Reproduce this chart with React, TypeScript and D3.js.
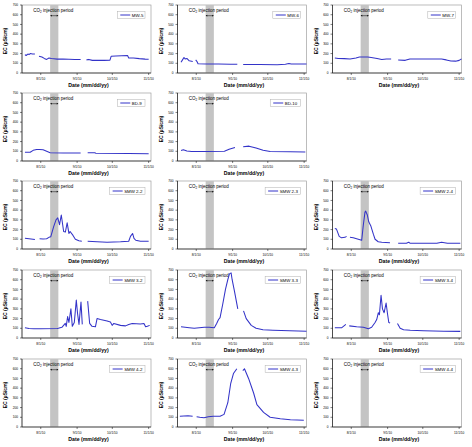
import React from "react";
import * as d3 from "d3";

type Pt = [string, number | null];

// EC (µS/cm) readings per well, dates as month/day (2010), null = gap in record
const mw5: Pt[] = [["7/18.5",190],["7/19.5",180],["7/21",195],["7/22",190],["7/23",200],["7/25",195],["7/27",195],["7/27.5",null],["7/30.5",172],["8/2",165],["8/4",150],["8/6",140],["8/8",155],["8/10",150],["8/12",147],["8/15",143],["8/20",143],["8/25",142],["8/30",140],["9/4",140],["9/6",null],["9/9",135],["9/11",140],["9/14",130],["9/19",130],["9/24",130],["9/29",132],["9/30",172],["10/4",175],["10/9",178],["10/14",180],["10/15",155],["10/19",155],["10/24",148],["10/29",143],["11/1",142]];
const mw6: Pt[] = [["7/19",110],["7/20",130],["7/21.5",160],["7/22.5",145],["7/24",150],["7/26",125],["7/29",118],["7/30",null],["7/31.5",135],["8/1.5",120],["8/2.5",95],["8/10",93],["8/20",93],["8/30",90],["9/5",90],["9/7",null],["9/10",88],["9/24",88],["10/9",85],["10/16",90],["10/19",98],["10/21",92],["11/3",92]];
const mw7: Pt[] = [["7/18",155],["7/21",150],["7/26",148],["7/31",145],["8/5",155],["8/8",165],["8/15",165],["8/18",160],["8/23",150],["8/27",140],["8/31",145],["9/4",145],["9/6",null],["9/10",133],["9/16",130],["9/20",145],["10/4",145],["10/17",145],["10/21",135],["10/25",123],["10/29",122],["11/1",130],["11/3",145]];
const bd9: Pt[] = [["7/18.5",90],["7/23",90],["7/25.5",110],["7/28.5",118],["7/31",118],["8/3",115],["8/6",100],["8/9",85],["8/20",83],["9/4",82],["9/6",null],["9/10",85],["9/16",85],["9/17",80],["10/15",78],["11/1",75]];
const bd10: Pt[] = [["7/19",108],["7/21",115],["7/24",103],["7/28",98],["8/10",97],["8/25",100],["8/29",120],["9/3",140],["9/6",null],["9/10",146],["9/15",153],["9/21",135],["9/27",110],["10/3",97],["10/20",95],["11/2",93]];
const smw22: Pt[] = [["7/18.5",110],["7/22",105],["7/27",98],["7/28",null],["7/31",105],["8/3",103],["8/6",105],["8/8",120],["8/9.5",125],["8/12",230],["8/14",300],["8/15.5",320],["8/17",250],["8/18.5",350],["8/20.5",180],["8/22",175],["8/23.5",270],["8/25",160],["8/26",180],["8/28.5",140],["8/30.5",100],["9/2.5",85],["9/5",80],["9/7",null],["9/10",80],["9/18",75],["9/26.5",70],["10/8",75],["10/15",80],["10/16.5",130],["10/18.3",160],["10/19.5",110],["10/21",90],["10/25",80],["11/1",80]];
const smw23: Pt[] = [];
const smw24: Pt[] = [["7/18",210],["7/19.4",205],["7/21.7",130],["7/23.7",115],["7/26.6",120],["7/28",130],["7/29",null],["7/30.9",120],["8/2.7",115],["8/7",100],["8/9.9",90],["8/11.3",250],["8/12.7",380],["8/13.3",390],["8/14.7",350],["8/15.9",280],["8/17.6",240],["8/19.9",150],["8/21.3",100],["8/24",75],["8/27",70],["9/3",65],["9/6",null],["9/10",60],["9/17",60],["9/19",70],["9/20",60],["10/13",60],["10/17",70],["10/22",60],["11/2",60]];
const smw32: Pt[] = [["7/18.5",105],["7/22",97],["7/26",95],["8/1",95],["8/15",97],["8/16",100],["8/19",110],["8/21.9",150],["8/22.7",120],["8/23.9",220],["8/25",160],["8/26.7",300],["8/27.9",120],["8/29.6",160],["8/31.3",390],["9/1.4",250],["9/2.6",140],["9/4.3",370],["9/5.4",140],["9/7",null],["9/10",380],["9/11.7",150],["9/13.7",120],["9/16.6",115],["9/18",200],["9/20.9",190],["9/26.6",175],["9/29.4",165],["9/30.9",130],["10/2.3",150],["10/8",130],["10/12.3",125],["10/15",140],["10/18",150],["10/25",145],["10/28",150],["10/29.4",115],["10/30.9",120],["11/1.9",130]];
const smw33: Pt[] = [["7/19",115],["7/26",105],["7/30.3",100],["8/3.6",105],["8/7.9",110],["8/12",110],["8/16.4",105],["8/18.4",150],["8/20",190],["8/21.3",210],["8/23.6",350],["8/25.9",500],["8/27.9",600],["8/29.3",660],["8/30.7",670],["8/31.6",600],["9/2.6",480],["9/5.4",300],["9/7",null],["9/10.3",280],["9/12.6",200],["9/16.9",130],["9/21",100],["9/26.9",85],["10/5.4",80],["10/19.7",75],["11/3",70]];
const smw34: Pt[] = [["7/18",105],["7/23.7",105],["7/27.4",140],["7/28.5",null],["7/30.3",125],["8/5.6",115],["8/11.3",110],["8/15.6",95],["8/18.4",110],["8/21.3",160],["8/22.7",190],["8/24.1",260],["8/25",240],["8/26.4",440],["8/27.6",300],["8/29",260],["8/30.7",360],["8/31.9",250],["9/2",160],["9/3.1",155],["9/6",null],["9/9.4",150],["9/11.7",100],["9/14.6",85],["9/20.3",80],["10/1.7",75],["10/18.9",70],["11/2",68]];
const smw42: Pt[] = [];
const smw43: Pt[] = [["7/18",110],["7/25",115],["7/28.9",110],["7/30",null],["8/1.3",105],["8/4",100],["8/7.6",95],["8/11.3",105],["8/15.6",110],["8/21.3",110],["8/24.7",130],["8/27.9",250],["8/30.4",450],["9/1.7",550],["9/4.6",600],["9/7",null],["9/9.7",580],["9/11.1",600],["9/14.6",500],["9/18.9",350],["9/21.7",230],["9/27.4",150],["10/3",100],["10/11.7",85],["10/20.3",75],["10/31.7",70]];
const smw44: Pt[] = [];

const wellNames: (string | null)[] = ["MW-5","MW-6","MW-7","BD-9","BD-10",null,"SMW 2-2","SMW 2-3","SMW 2-4","SMW 3-2","SMW 3-3","SMW 3-4","SMW 4-2","SMW 4-3","SMW 4-4"];
const wellData: Pt[][] = [mw5,mw6,mw7,bd9,bd10,[],smw22,smw23,smw24,smw32,smw33,smw34,smw42,smw43,smw44];

const yTicks = [0,100,200,300,400,500,600,700];
const xTickDates = ["8/1","9/1","10/1","11/1"];
const xTickLabels = ["8/1/10","9/1/10","10/1/10","11/1/10"];
const xDomain = ["7/16","11/3"];
const injection = ["8/9","8/16"];

const parse = (s: string) => {
  const [m, d] = s.split("/");
  return new Date(new Date(2010, +m - 1, 1).getTime() + (parseFloat(d) - 1) * 86400000);
};

const colX = [22, 177.5, 332.5];
const rowY = [5, 93, 181, 270, 359];
const plotW = 129;
const plotH = 68;
const FONT = "'Liberation Sans', Arial, sans-serif";
const BLUE = "#3333c8";

function Panel({ name, data, ox, oy }: { name: string; data: Pt[]; ox: number; oy: number }) {
  const x = d3.scaleTime().domain(xDomain.map(parse)).range([0, plotW]);
  const y = d3.scaleLinear().domain([0, 700]).range([plotH, 0]);
  const line = d3
    .line<Pt>()
    .defined((p) => p[1] != null)
    .x((p) => x(parse(p[0])))
    .y((p) => y(p[1] as number));
  const b0 = x(parse(injection[0]));
  const b1 = x(parse(injection[1]));
  const legendFont = 4.4;
  const textW = name.length * legendFont * 0.58;
  const legW = 3 + 10 + 1.5 + textW + 3;
  const legR = plotW - 6;
  const legL = legR - legW;
  return (
    <g transform={`translate(${ox},${oy})`}>
      <rect x={0} y={0} width={plotW} height={plotH} fill="#fff" stroke="#a0a0a0" strokeWidth={0.7} />
      <rect x={b0} y={0} width={b1 - b0} height={plotH} fill="#c4c4c4" />
      {/* annotation */}
      <text x={(b0 + b1) / 2 - 1} y={6.6} fontSize={4.5} fontFamily={FONT} textAnchor="middle" fill="#000">
        CO<tspan fontSize={3} dy={1}>2</tspan><tspan dy={-1}> injection period</tspan>
      </text>
      <line x1={b0 + 0.8} x2={b1 - 0.8} y1={10.7} y2={10.7} stroke="#000" strokeWidth={0.5} />
      <path d={`M${b0},10.7 l1.6,-0.9 v1.8 z M${b1},10.7 l-1.6,-0.9 v1.8 z`} fill="#000" />
      {/* axes */}
      <line x1={0} x2={0} y1={0} y2={plotH} stroke="#000" strokeWidth={0.6} />
      <line x1={0} x2={plotW} y1={plotH} y2={plotH} stroke="#000" strokeWidth={0.6} />
      {yTicks.map((t) => (
        <g key={t}>
          <line x1={-2} x2={0} y1={y(t)} y2={y(t)} stroke="#000" strokeWidth={0.5} />
          <text x={-4} y={y(t) + 1.1} fontSize={3.2} fontFamily={FONT} textAnchor="end">{t}</text>
        </g>
      ))}
      {xTickDates.map((t, i) => (
        <g key={t}>
          <line x1={x(parse(t))} x2={x(parse(t))} y1={plotH} y2={plotH + 2} stroke="#000" strokeWidth={0.5} />
          <text x={x(parse(t))} y={plotH + 7} fontSize={3.2} fontFamily={FONT} textAnchor="middle">{xTickLabels[i]}</text>
        </g>
      ))}
      <path d={line(data) || ""} fill="none" stroke={BLUE} strokeWidth={1.05} strokeLinejoin="round" />
      {/* legend */}
      <rect x={legL} y={6.5} width={legW} height={7} fill="#fff" stroke="#b0b0b0" strokeWidth={0.5} />
      <line x1={legL + 3} x2={legL + 13} y1={10} y2={10} stroke={BLUE} strokeWidth={1} />
      <text x={legL + 14.5} y={11.5} fontSize={legendFont} fontFamily={FONT}>{name}</text>
      {/* titles */}
      <text transform={`translate(-15,${plotH / 2 + 2}) rotate(-90)`} fontSize={5} fontWeight="bold" fontFamily={FONT} textAnchor="middle">
        EC (µS/cm)
      </text>
      <text x={plotW / 2 + 2} y={plotH + 14} fontSize={5.2} fontWeight="bold" fontFamily={FONT} textAnchor="middle">
        Date (mm/dd/yy)
      </text>
    </g>
  );
}

export default function App() {
  return (
    <svg width={472} height={447} style={{ position: "absolute", left: 0, top: 0, background: "#fff" }}>
      <rect width={472} height={447} fill="#fff" />
      {wellNames.map((n, i) =>
        n ? <Panel key={n} name={n} data={wellData[i]} ox={colX[i % 3]} oy={rowY[Math.floor(i / 3)]} /> : null
      )}
    </svg>
  );
}
